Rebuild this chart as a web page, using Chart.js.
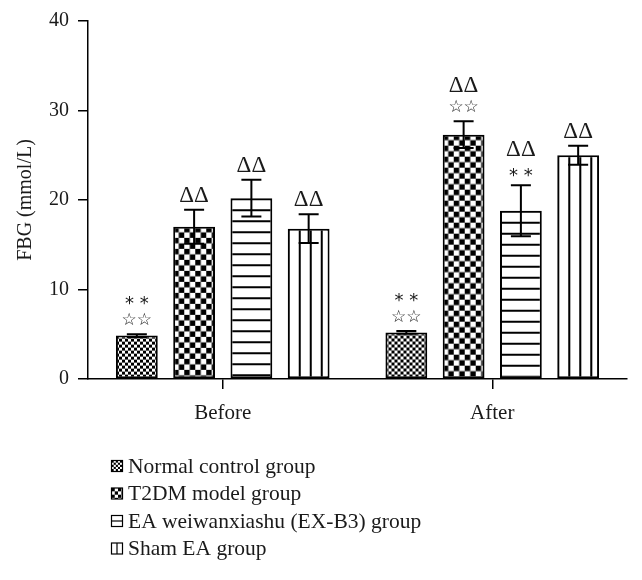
<!DOCTYPE html>
<html>
<head>
<meta charset="utf-8">
<script src="https://cdn.jsdelivr.net/npm/chart.js@4.4.0/dist/chart.umd.min.js"></script>
<style>
  html, body { margin: 0; padding: 0; background: #fff; }
</style>
</head>
<body>
<canvas id="fbgChart" width="642" height="580"></canvas>
<script>
const categories = ['Before', 'After'];
const groups = ['Normal control group', 'T2DM model group', 'EA weiwanxiashu (EX-B3) group', 'Sham EA group'];

const normalMean = [4.85, 5.2];
const normalSd = [0.15, 0.15];
const t2dmMean = [17.0, 27.3];
const t2dmSd = [1.9, 1.5];
const eaMean = [20.2, 18.8];
const eaSd = [2.05, 2.85];
const shamMean = [16.8, 25.0];
const shamSd = [1.6, 1.05];

// significance marks above each bar, listed from the bar upwards
const normalMarks = [['☆☆', '* *'], ['☆☆', '* *']];
const t2dmMarks = [['ΔΔ'], ['☆☆', 'ΔΔ']];
const eaMarks = [['ΔΔ'], ['* *', 'ΔΔ']];
const shamMarks = [['ΔΔ'], ['ΔΔ']];

const FONT = "'Liberation Serif', 'Times New Roman', serif";
const INK = '#1a1a1a';

// Fill patterns (one per bar so each can be lined up with its own bar)
function makePattern(kind) {
  const c = document.createElement('canvas');
  const g = c.getContext('2d');
  if (kind === 'fine') {
    c.width = 6; c.height = 6;
    g.fillStyle = '#fff'; g.fillRect(0, 0, 6, 6);
    g.fillStyle = '#000'; g.fillRect(0, 0, 3, 3); g.fillRect(3, 3, 3, 3);
  } else if (kind === 'coarse') {
    c.width = 11; c.height = 11;
    g.fillStyle = '#fff'; g.fillRect(0, 0, 11, 11);
    g.fillStyle = '#000'; g.fillRect(0, 0, 5.5, 5.5); g.fillRect(5.5, 5.5, 5.5, 5.5);
  } else if (kind === 'hline') {
    c.width = 4; c.height = 11;
    g.fillStyle = '#fff'; g.fillRect(0, 0, 4, 11);
    g.fillStyle = '#000'; g.fillRect(0, 0, 4, 2);
  } else {
    c.width = 11; c.height = 4;
    g.fillStyle = '#fff'; g.fillRect(0, 0, 11, 4);
    g.fillStyle = '#000'; g.fillRect(0, 0, 2, 4);
  }
  return g.createPattern(c, 'repeat');
}

function barSet(label, data, sd, marks, kind) {
  return {
    label: label,
    data: data,
    sd: sd,
    marks: marks,
    kind: kind,
    backgroundColor: data.map(() => makePattern(kind)),
    borderColor: '#000',
    borderWidth: 2,
    borderSkipped: false,
    categoryPercentage: 0.85,
    barPercentage: 0.73
  };
}

const alignPatterns = {
  id: 'alignPatterns',
  beforeDatasetsDraw(chart) {
    chart.data.datasets.forEach((ds, i) => {
      chart.getDatasetMeta(i).data.forEach((bar, j) => {
        const left = bar.x - bar.width / 2;
        ds.backgroundColor[j].setTransform(new DOMMatrix().translate(left, bar.y));
      });
    });
  }
};

function drawMark(ctx, text, x, y) {
  if (text.indexOf('*') >= 0) {
    ctx.font = "18px 'DejaVu Sans'";
    ctx.fillText(text, x, y + 5);
  } else if (text.indexOf('☆') >= 0) {
    ctx.font = "17px 'DejaVu Sans'";
    ctx.fillText(text, x, y);
  } else {
    ctx.font = '23px ' + FONT;
    ctx.fillText(text, x, y);
  }
}

const errorBars = {
  id: 'errorBars',
  afterDatasetsDraw(chart) {
    const y = chart.scales.y;
    const ctx = chart.ctx;
    ctx.save();
    ctx.strokeStyle = '#000';
    ctx.lineWidth = 2;
    ctx.fillStyle = INK;
    ctx.textAlign = 'center';
    ctx.textBaseline = 'middle';
    chart.data.datasets.forEach((ds, i) => {
      chart.getDatasetMeta(i).data.forEach((bar, j) => {
        const hi = y.getPixelForValue(ds.data[j] + ds.sd[j]);
        const lo = y.getPixelForValue(ds.data[j] - ds.sd[j]);
        const cap = 10;
        ctx.beginPath();
        ctx.moveTo(bar.x, lo); ctx.lineTo(bar.x, hi);
        ctx.moveTo(bar.x - cap, hi); ctx.lineTo(bar.x + cap, hi);
        ctx.moveTo(bar.x - cap, lo); ctx.lineTo(bar.x + cap, lo);
        ctx.stroke();
        let ty = hi - 14;
        ds.marks[j].forEach(m => {
          drawMark(ctx, m, bar.x, ty);
          ty -= 21;
        });
      });
    });
    ctx.restore();
  }
};

// legend as one item per row, under the plot
const stackedLegend = {
  id: 'stackedLegend',
  afterDraw(chart) {
    const ctx = chart.ctx;
    ctx.save();
    ctx.font = '21.5px ' + FONT;
    ctx.fillStyle = INK;
    ctx.textBaseline = 'middle';
    chart.data.datasets.forEach((ds, i) => {
      const cy = 466 + i * 27.5;
      const bx = 111.5, by = cy - 5.5, s = 11;
      ctx.fillStyle = '#fff';
      ctx.fillRect(bx, by, s, s);
      ctx.strokeStyle = '#000';
      ctx.lineWidth = 1.2;
      if (ds.kind === 'fine' || ds.kind === 'coarse') {
        const p = makePattern(ds.kind);
        const sc = ds.kind === 'fine' ? 0.7 : 0.6;
        p.setTransform(new DOMMatrix().translate(bx, by).scale(sc));
        ctx.fillStyle = p;
        ctx.fillRect(bx, by, s, s);
      } else if (ds.kind === 'hline') {
        ctx.beginPath(); ctx.moveTo(bx, cy); ctx.lineTo(bx + s, cy); ctx.stroke();
      } else {
        ctx.beginPath(); ctx.moveTo(bx + s / 2, by); ctx.lineTo(bx + s / 2, by + s); ctx.stroke();
      }
      ctx.strokeRect(bx, by, s, s);
      ctx.fillStyle = INK;
      ctx.fillText(ds.label, 128, cy + 1);
    });
    ctx.restore();
  }
};

const ctx = document.getElementById('fbgChart').getContext('2d');
new Chart(ctx, {
  type: 'bar',
  data: {
    labels: categories,
    datasets: [
      barSet(groups[0], normalMean, normalSd, normalMarks, 'fine'),
      barSet(groups[1], t2dmMean, t2dmSd, t2dmMarks, 'coarse'),
      barSet(groups[2], eaMean, eaSd, eaMarks, 'hline'),
      barSet(groups[3], shamMean, shamSd, shamMarks, 'vline')
    ]
  },
  options: {
    responsive: false,
    animation: false,
    layout: { padding: { top: 20, right: 15, bottom: 0, left: 0 } },
    plugins: {
      legend: { display: false },
      tooltip: { enabled: false }
    },
    scales: {
      x: {
        afterFit(scale) { scale.height = 201; },
        grid: { offset: false, drawOnChartArea: false, drawTicks: true, tickLength: 10, color: '#000', lineWidth: 1.5 },
        border: { display: true, color: '#000', width: 1.5 },
        ticks: { color: INK, font: { family: FONT, size: 21 }, padding: 12 }
      },
      y: {
        min: 0,
        max: 40,
        afterFit(scale) { scale.width = 88; },
        grid: { drawOnChartArea: false, drawTicks: true, tickLength: 10, color: '#000', lineWidth: 1.5 },
        border: { display: true, color: '#000', width: 1.5 },
        ticks: { stepSize: 10, color: INK, font: { family: FONT, size: 20 }, padding: 9 },
        title: {
          display: true,
          text: 'FBG (mmol/L)',
          color: INK,
          font: { family: FONT, size: 20 },
          padding: { top: 14, bottom: 0 }
        }
      }
    }
  },
  plugins: [alignPatterns, errorBars, stackedLegend]
});
</script>
</body>
</html>
